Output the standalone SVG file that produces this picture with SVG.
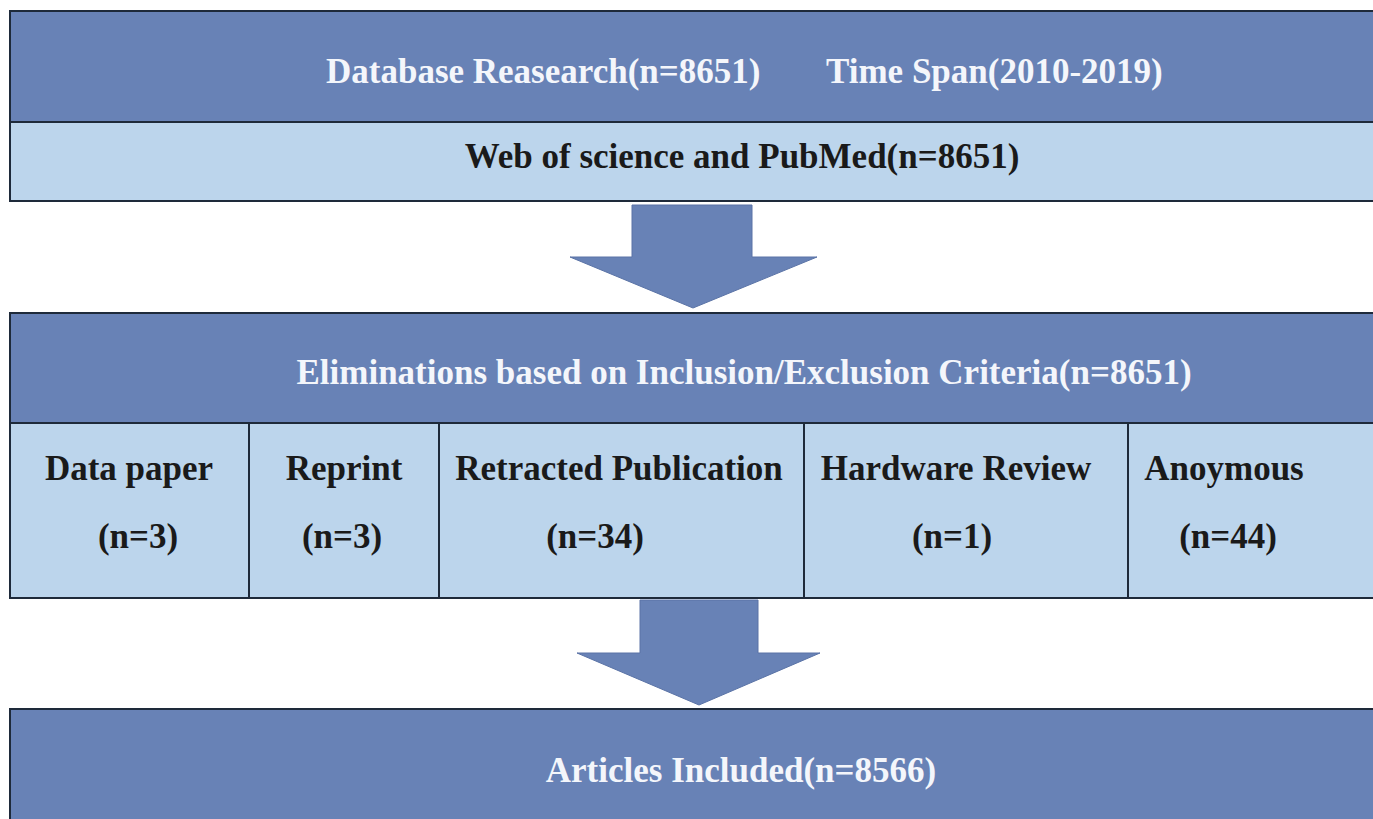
<svg xmlns="http://www.w3.org/2000/svg" width="1373" height="819" viewBox="0 0 1373 819">
<style>
.dark{fill:#6882b6;stroke:#1e2a3a;stroke-width:2}
.light{fill:#bcd5ec;stroke:#1e2a3a;stroke-width:2}
.arrow{fill:#6882b6;stroke:#5a73a6;stroke-width:1}
text{font-family:"Liberation Serif","Times New Roman",serif;font-weight:bold;font-size:35px}
.w{fill:#f4f6fb}
.k{fill:#1a1a1a}
</style>
<rect width="1373" height="819" fill="#ffffff"/>
<g id="database">
<rect class="dark" x="10" y="11" width="1380" height="111"/>
<text class="w" x="326" y="83">Database Reasearch(n=8651)</text>
<text class="w" x="826" y="83">Time Span(2010-2019)</text>
</g>
<g id="sources">
<rect class="light" x="10" y="122" width="1380" height="79"/>
<text class="k" x="742" y="168" text-anchor="middle">Web of science and PubMed(n=8651)</text>
</g>
<g id="connectors">
<polygon class="arrow" points="632,205 752,205 752,257 817,257 693,308 570,257 632,257"/>
<polygon class="arrow" points="640,600 758,600 758,653 820,653 699,705 577,653 640,653"/>
</g>
<g id="eliminations">
<rect class="dark" x="10" y="313" width="1380" height="110"/>
<text class="w" x="744" y="384" text-anchor="middle">Eliminations based on Inclusion/Exclusion Criteria(n=8651)</text>
</g>
<g id="data-paper">
<rect class="light" x="10" y="423" width="239" height="175"/>
<text class="k" x="129" y="480" text-anchor="middle">Data paper</text>
<text class="k" x="138" y="548" text-anchor="middle">(n=3)</text>
</g>
<g id="reprint">
<rect class="light" x="249" y="423" width="190" height="175"/>
<text class="k" x="344" y="480" text-anchor="middle">Reprint</text>
<text class="k" x="342" y="548" text-anchor="middle">(n=3)</text>
</g>
<g id="retracted">
<rect class="light" x="439" y="423" width="365" height="175"/>
<text class="k" x="619" y="480" text-anchor="middle">Retracted Publication</text>
<text class="k" x="595" y="548" text-anchor="middle">(n=34)</text>
</g>
<g id="hardware">
<rect class="light" x="804" y="423" width="324" height="175"/>
<text class="k" x="956" y="480" text-anchor="middle">Hardware Review</text>
<text class="k" x="952" y="548" text-anchor="middle">(n=1)</text>
</g>
<g id="anonymous">
<rect class="light" x="1128" y="423" width="262" height="175"/>
<text class="k" x="1224" y="480" text-anchor="middle">Anoymous</text>
<text class="k" x="1228" y="548" text-anchor="middle">(n=44)</text>
</g>
<g id="included">
<rect class="dark" x="10" y="709" width="1380" height="130"/>
<text class="w" x="741" y="782" text-anchor="middle">Articles Included(n=8566)</text>
</g>
</svg>
